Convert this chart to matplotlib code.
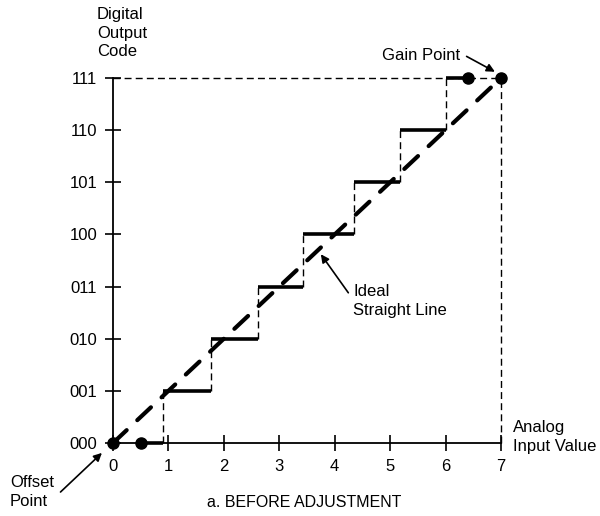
import matplotlib
matplotlib.use("Agg")
import matplotlib.pyplot as plt

plt.rcParams['font.family'] = ['Liberation Sans', 'DejaVu Sans']

# code levels and input values
codes = ["000", "001", "010", "011", "100", "101", "110", "111"]
inputs = [0, 1, 2, 3, 4, 5, 6, 7]

# input value where each code transition happens
transitions = [0.9, 1.77, 2.62, 3.43, 4.35, 5.18, 6.01]
step_start = 0.5
step_end = 6.4

# marked points
offset_point = (0, 0)
gain_point = (7, 7)

fig = plt.figure(figsize=(6.0, 5.16), dpi=100)
ax = fig.add_axes([113 / 600, 73 / 516, 388 / 600, 365 / 516])
ax.set_xlim(0, 7)
ax.set_ylim(0, 7)

# staircase: thick treads, thin dashed risers
edges = [step_start] + transitions + [step_end]
for k in range(len(codes)):
    ax.plot([edges[k], edges[k + 1]], [k, k], color="black", lw=2.6,
            solid_capstyle="butt", clip_on=False, zorder=3)
for k, t in enumerate(transitions):
    ax.plot([t, t], [k, k + 1], color="black", lw=1.0, ls=(0, (5, 3)),
            clip_on=False, zorder=2)

# ideal straight line
ax.plot([offset_point[0], gain_point[0]], [offset_point[1], gain_point[1]],
        color="black", lw=3.0, ls=(0, (4.5, 3.5)), dash_capstyle="round",
        clip_on=False, zorder=4)

# reference dashed lines to the gain point
ax.plot([0, gain_point[0]], [gain_point[1], gain_point[1]], color="black",
        lw=1.0, ls=(0, (5, 3)), clip_on=False)
ax.plot([gain_point[0], gain_point[0]], [0, gain_point[1]], color="black",
        lw=1.0, ls=(0, (5, 3)), clip_on=False)

# dots
ax.plot([offset_point[0], step_start, step_end, gain_point[0]],
        [offset_point[1], 0, 7, gain_point[1]], "o", color="black",
        ms=8, clip_on=False, zorder=5)

# axes
for s in ["top", "right"]:
    ax.spines[s].set_visible(False)
for s in ["left", "bottom"]:
    ax.spines[s].set_linewidth(1.3)
ax.set_xticks(inputs)
ax.set_xticklabels([str(v) for v in inputs])
ax.set_yticks(range(len(codes)))
ax.set_yticklabels(codes)
ax.tick_params(direction="inout", length=11, width=1.2, labelsize=12)
ax.tick_params(axis="x", pad=6)
ax.tick_params(axis="y", pad=6)

# labels and notes
ax.text(-0.29, 7.86, "Digital\nOutput\nCode", ha="left", va="center",
        fontsize=12, linespacing=1.3, clip_on=False)
ax.text(7.22, 0.12, "Analog\nInput Value", ha="left", va="center",
        fontsize=12, linespacing=1.3, clip_on=False)
ax.annotate("Gain Point", xy=(6.89, 7.12), xytext=(5.56, 7.44),
            ha="center", va="center", fontsize=12, annotation_clip=False,
            arrowprops=dict(arrowstyle="-|>", color="black", lw=1.2,
                            shrinkA=2, shrinkB=0, mutation_scale=12,
                            relpos=(1.05, 0.5)))
ax.annotate("Ideal\nStraight Line", xy=(3.75, 3.62), xytext=(4.33, 2.72),
            ha="left", va="center", fontsize=12, linespacing=1.3,
            arrowprops=dict(arrowstyle="-|>", color="black", lw=1.2,
                            shrinkA=0, shrinkB=0, mutation_scale=12,
                            relpos=(-0.05, 0.75)))
ax.annotate("Offset\nPoint", xy=(-0.2, -0.19), xytext=(-1.86, -0.94),
            ha="left", va="center", fontsize=12, linespacing=1.3,
            annotation_clip=False,
            arrowprops=dict(arrowstyle="-|>", color="black", lw=1.2,
                            shrinkA=0, shrinkB=0, mutation_scale=12,
                            relpos=(1.15, 0.5)))
ax.text(3.45, -1.15, "a. BEFORE ADJUSTMENT", ha="center", va="center",
        fontsize=11.5, clip_on=False)

fig.savefig("out.png", dpi=100)
